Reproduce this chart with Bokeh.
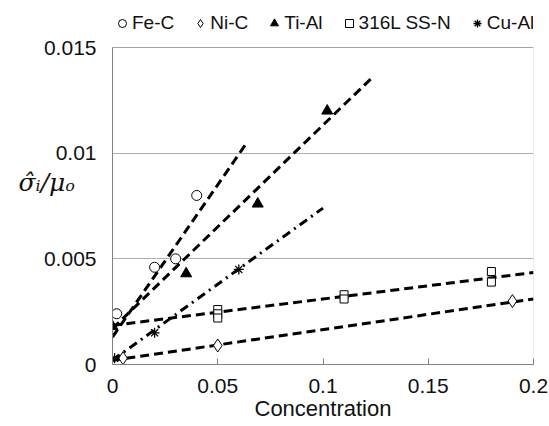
from bokeh.plotting import figure
from bokeh.models import Range1d, FixedTicker, NumeralTickFormatter, Legend, LegendItem, BoxAnnotation
from bokeh.embed import file_html
from bokeh.resources import INLINE

# ---- data ----
fe_x = [0.002, 0.02, 0.03, 0.04]
fe_y = [0.0024, 0.0046, 0.005, 0.008]
ni_x = [0.005, 0.05, 0.19]
ni_y = [0.0003, 0.0009, 0.003]
ti_x = [0.0, 0.035, 0.069, 0.102]
ti_y = [0.0018, 0.0043, 0.0076, 0.012]
ss_x = [0.05, 0.05, 0.05, 0.11, 0.11, 0.18, 0.18]
ss_y = [0.0026, 0.0024, 0.0022, 0.0033, 0.0031, 0.0044, 0.0039]
cu_x = [0.001, 0.02, 0.06]
cu_y = [0.0003, 0.0015, 0.0045]

# trend lines (end points)
fe_fit_x = [0.0, 0.0635]
fe_fit_y = [0.0013, 0.01045]
ni_fit_x = [0.0, 0.2]
ni_fit_y = [0.0002, 0.0031]
ti_fit_x = [0.0, 0.1236]
ti_fit_y = [0.0017, 0.0136]
ss_fit_x = [0.0, 0.2]
ss_fit_y = [0.00185, 0.00435]
cu_fit_x = [0.0, 0.1]
cu_fit_y = [0.0002, 0.0074]

x_ticks = [0, 0.05, 0.1, 0.15, 0.2]
y_ticks = [0, 0.005, 0.01, 0.015]
series_names = ["Fe-C", "Ni-C", "Ti-Al", "316L SS-N", "Cu-Al"]
x_title = "Concentration"
y_title = "σ̂ᵢ/μₒ"

FONT = "Liberation Sans"
W, H = 549, 426
FRAME_TOP_PAD = 47          # room above the plot area for the legend (px)
B_LEFT, B_RIGHT, B_BOTTOM = 112, 16, 62
frame_h = H - B_BOTTOM
plot_h = frame_h - FRAME_TOP_PAD
y_end = y_ticks[-1] * frame_h / plot_h

p = figure(width=W, height=H, output_backend="svg", toolbar_location=None,
           x_range=Range1d(x_ticks[0], x_ticks[-1]), y_range=Range1d(y_ticks[0], y_end),
           min_border_left=B_LEFT, min_border_right=B_RIGHT, min_border_top=0,
           min_border_bottom=B_BOTTOM)
p.background_fill_color = "white"
p.border_fill_color = "white"
p.outline_line_color = None

# axes
p.xaxis.ticker = FixedTicker(ticks=x_ticks)
p.yaxis.ticker = FixedTicker(ticks=y_ticks)
p.xaxis.formatter = NumeralTickFormatter(format="0.[00]")
p.yaxis.formatter = NumeralTickFormatter(format="0.[000]")
for ax in (p.xaxis[0], p.yaxis[0]):
    ax.major_label_text_font = FONT
    ax.major_label_text_font_size = "21px"
    ax.major_label_text_color = "#111111"
    ax.axis_line_color = "#808080"
    ax.minor_tick_line_color = None
p.yaxis.bounds = (y_ticks[0], y_ticks[-1])
p.xaxis.major_tick_in = 6
p.xaxis.major_tick_out = 0
p.xaxis.major_tick_line_color = "#808080"
p.xaxis.major_label_standoff = 14
p.xaxis.axis_label = x_title
p.xaxis.axis_label_text_font = FONT
p.xaxis.axis_label_text_font_style = "normal"
p.xaxis.axis_label_text_font_size = "22px"
p.xaxis.axis_label_text_color = "#111111"
p.xaxis.axis_label_standoff = 0

p.yaxis.major_tick_line_color = None
p.yaxis.major_tick_in = 0
p.yaxis.major_tick_out = 0
p.yaxis.major_label_standoff = 16
p.yaxis.axis_label = y_title
p.yaxis.axis_label_orientation = "horizontal"
p.yaxis.axis_label_text_font = "DejaVu Serif"
p.yaxis.axis_label_text_font_style = "italic"
p.yaxis.axis_label_text_font_size = "25px"
p.yaxis.axis_label_text_color = "#111111"
p.yaxis.axis_label_standoff = -34

p.xgrid.grid_line_color = None
p.ygrid.ticker = FixedTicker(ticks=y_ticks)
p.ygrid.grid_line_color = "#b0b0b0"
p.ygrid.grid_line_width = 1

# plot-area border
p.add_layout(BoxAnnotation(left=x_ticks[0], right=x_ticks[-1], bottom=y_ticks[0], top=y_ticks[-1],
                           fill_alpha=0, line_color="#898989", line_width=1))

# trend lines
lw = 3
p.line(fe_fit_x, fe_fit_y, line_color="black", line_width=lw, line_dash="9 5")
p.line(ni_fit_x, ni_fit_y, line_color="black", line_width=lw, line_dash="9 5")
p.line(ti_fit_x, ti_fit_y, line_color="black", line_width=lw, line_dash="9 5")
p.line(ss_fit_x, ss_fit_y, line_color="black", line_width=lw, line_dash="9 5")
p.line(cu_fit_x, cu_fit_y, line_color="black", line_width=lw, line_dash="9 5 2 5")

# markers
r_fe = p.scatter(fe_x, fe_y, marker="circle", size=10, fill_color="white", line_color="black", line_width=1)
r_ni = p.scatter(ni_x, ni_y, marker="diamond", size=13, fill_color="white", line_color="black", line_width=1)
r_ti = p.scatter(ti_x, ti_y, marker="triangle", size=11, fill_color="black", line_color="black", line_width=1)
r_ss = p.scatter(ss_x, ss_y, marker="square", size=8, fill_color="white", line_color="black", line_width=1)
r_cu = p.scatter(cu_x, cu_y, marker="asterisk", size=10, line_color="black", line_width=1.3)

legend = Legend(items=[LegendItem(label=n, renderers=[r]) for n, r in
                       zip(series_names, [r_fe, r_ni, r_ti, r_ss, r_cu])],
                orientation="horizontal", location=(0, frame_h - 34),
                glyph_width=20, glyph_height=20, label_standoff=-3, spacing=16,
                padding=0, margin=0, border_line_alpha=0, background_fill_alpha=0,
                label_text_font=FONT, label_text_font_size="19px", label_text_color="#111111")
p.add_layout(legend, "center")

open("out.html", "w").write(file_html(p, INLINE))
